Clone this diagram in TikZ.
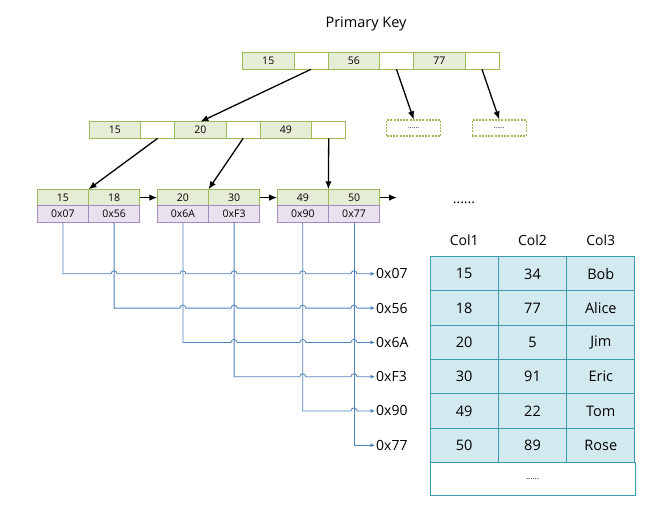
\documentclass[tikz,border=0pt]{standalone}
\usepackage{fontspec}
\setmainfont{Open Sans}
\usetikzlibrary{arrows.meta,calc}
\definecolor{gborder}{HTML}{9BBB59}
\definecolor{gfill}{HTML}{E6EDD6}
\definecolor{pborder}{HTML}{A38BC2}
\definecolor{pfill}{HTML}{E8E2EE}
\definecolor{tborder}{HTML}{3A9AAE}
\definecolor{tfill}{HTML}{D3E9F0}
\definecolor{bline}{HTML}{4F81BD}
\begin{document}
\begin{tikzpicture}[x=1pt,y=-1pt,
  cell/.style={draw, inner sep=0pt, outer sep=0pt, minimum height=16.6pt, line width=0.9pt, font=\fontsize{10.5}{12}\selectfont},
  gcell/.style={cell, draw=gborder, fill=gfill},
  wcell/.style={cell, draw=gborder, fill=white},
  pcell/.style={cell, draw=pborder, fill=pfill},
  dbox/.style={draw=gborder, line width=1.2pt, dash pattern=on 2pt off 1.2pt, minimum width=54pt, minimum height=16pt, inner sep=0pt, font=\fontsize{7}{8}\selectfont},
  tarrow/.style={-{Latex[length=8pt,width=6.5pt]}, line width=1.3pt, black},
  barrow/.style={-{Latex[length=4.5pt,width=4pt]}, line width=0.8pt, bline},
  plabel/.style={anchor=west, inner sep=1pt, font=\fontsize{14}{16}\selectfont},
  tcell/.style={draw=tborder, fill=tfill, line width=1pt, minimum width=68.33pt, minimum height=34.27pt, inner sep=0pt, font=\fontsize{14.5}{17}\selectfont},
  hdr/.style={font=\fontsize{14}{16}\selectfont}
]
\useasboundingbox (0,0) rectangle (659,505);

\node[font=\fontsize{14.5}{17}\selectfont] (pk) at (366,24) {Primary Key};

% root
\node[gcell, anchor=west, minimum width=51.5pt] (t1) at (242.5,61) {15};
\node[wcell, anchor=west, minimum width=34pt] (t2) at (t1.east) {};
\node[gcell, anchor=west, minimum width=51.5pt] (t3) at (t2.east) {56};
\node[wcell, anchor=west, minimum width=34pt] (t4) at (t3.east) {};
\node[gcell, anchor=west, minimum width=51.5pt] (t5) at (t4.east) {77};
\node[wcell, anchor=west, minimum width=34pt] (t6) at (t5.east) {};

% second level
\node[gcell, anchor=west, minimum width=51.3pt] (s1) at (89.3,130) {15};
\node[wcell, anchor=west, minimum width=34.2pt] (s2) at (s1.east) {};
\node[gcell, anchor=west, minimum width=51.3pt] (s3) at (s2.east) {20};
\node[wcell, anchor=west, minimum width=34.2pt] (s4) at (s3.east) {};
\node[gcell, anchor=west, minimum width=51.3pt] (s5) at (s4.east) {49};
\node[wcell, anchor=west, minimum width=34.2pt] (s6) at (s5.east) {};

\node[dbox] (d1) at (413.7,128) {......};
\node[dbox] (d2) at (499.2,128) {......};

% leaves
\node[gcell, anchor=west, minimum width=51.2pt] (a1) at (37.3,197.6) {15};
\node[gcell, anchor=west, minimum width=51.2pt] (a2) at (a1.east) {18};
\node[gcell, anchor=west, minimum width=51.2pt] (b1) at (157.3,197.6) {20};
\node[gcell, anchor=west, minimum width=51.2pt] (b2) at (b1.east) {30};
\node[gcell, anchor=west, minimum width=51.2pt] (c1) at (277.2,197.6) {49};
\node[gcell, anchor=west, minimum width=51.2pt] (c2) at (c1.east) {50};
\node[pcell, anchor=north, minimum width=51.2pt] (p1) at (a1.south) {0x07};
\node[pcell, anchor=north, minimum width=51.2pt] (p2) at (a2.south) {0x56};
\node[pcell, anchor=north, minimum width=51.2pt] (p3) at (b1.south) {0x6A};
\node[pcell, anchor=north, minimum width=51.2pt] (p4) at (b2.south) {0xF3};
\node[pcell, anchor=north, minimum width=51.2pt] (p5) at (c1.south) {0x90};
\node[pcell, anchor=north, minimum width=51.2pt] (p6) at (c2.south) {0x77};
\coordinate (nx) at (397,197.6);

% tree arrows
\draw[tarrow] (t2.south) -- (s3.north);
\draw[tarrow] (t4.south) -- (d1.north);
\draw[tarrow] (t6.south) -- (d2.north);
\draw[tarrow] (s2.south) -- (a1.north east);
\draw[tarrow] (s4.south) -- (b1.north east);
\draw[tarrow] (s6.south) -- (c1.north east);
\draw[tarrow] (a2.east) -- (b1.west);
\draw[tarrow] (b2.east) -- (c1.west);
\draw[tarrow] (c2.east) -- (nx);

% pointer labels
\node[plabel] (l1) at (375,273.8) {0x07};
\node[plabel] (l2) at (375,308.1) {0x56};
\node[plabel] (l3) at (375,342.4) {0x6A};
\node[plabel] (l4) at (375,376.7) {0xF3};
\node[plabel] (l5) at (375,410.9) {0x90};
\node[plabel] (l6) at (375,445.2) {0x77};

% blue pointer lines with hops
\draw[barrow] (p1.south) -- (p1.south |- l1.west)
  foreach \j in {p2,p3,p4,p5,p6} { -- ($(\j.south |- l1.west)+(-3,0)$) arc[start angle=180,end angle=360,radius=3] }
  -- (l1.west);
\draw[barrow] (p2.south) -- (p2.south |- l2.west)
  foreach \j in {p3,p4,p5,p6} { -- ($(\j.south |- l2.west)+(-3,0)$) arc[start angle=180,end angle=360,radius=3] }
  -- (l2.west);
\draw[barrow] (p3.south) -- (p3.south |- l3.west)
  foreach \j in {p4,p5,p6} { -- ($(\j.south |- l3.west)+(-3,0)$) arc[start angle=180,end angle=360,radius=3] }
  -- (l3.west);
\draw[barrow] (p4.south) -- (p4.south |- l4.west)
  foreach \j in {p5,p6} { -- ($(\j.south |- l4.west)+(-3,0)$) arc[start angle=180,end angle=360,radius=3] }
  -- (l4.west);
\draw[barrow] (p5.south) -- (p5.south |- l5.west)
  foreach \j in {p6} { -- ($(\j.south |- l5.west)+(-3,0)$) arc[start angle=180,end angle=360,radius=3] }
  -- (l5.west);
\draw[barrow] (p6.south) -- (p6.south |- l6.west) -- (l6.west);

% table
\node[font=\fontsize{14}{16}\selectfont] (dots) at (464,203) {......};
\node[hdr] (h1) at (464.2,240) {Col1};
\node[hdr] (h2) at (532.5,240) {Col2};
\node[hdr] (h3) at (600.8,240) {Col3};
\foreach \a/\b/\c [count=\i] in {15/34/Bob,18/77/Alice,20/5/Jim,30/91/Eric,49/22/Tom,50/89/Rose}{
  \node[tcell] (r\i a) at (464.2,239.57+34.27*\i) {\a};
  \node[tcell] (r\i b) at (532.5,239.57+34.27*\i) {\b};
  \node[tcell] (r\i c) at (600.8,239.57+34.27*\i) {\c};
}
\node[draw=tborder, fill=white, line width=1pt, minimum width=205pt, minimum height=33pt, inner sep=0pt, anchor=north, font=\fontsize{8}{9}\selectfont] (rlast) at (532.5,462.2) {......};
\end{tikzpicture}
\end{document}
